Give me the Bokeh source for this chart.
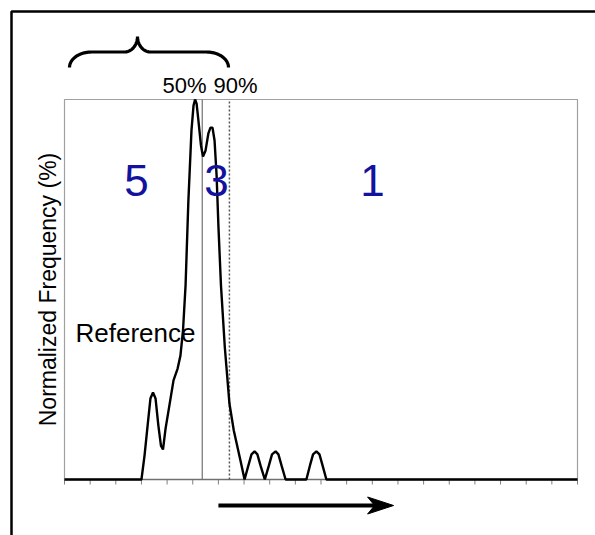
import numpy as np
from bokeh.plotting import figure
from bokeh.models import Range1d, Label
from bokeh.embed import file_html
from bokeh.resources import INLINE

# ---------------- data (x in axis-tick units 0..20, y in % 0..100) ----------------
curve_x = [0.0, 2.88, 3.00, 3.12, 3.24, 3.35, 3.45, 3.55, 3.66, 3.76, 3.84, 3.94,
           4.09, 4.25, 4.41, 4.52, 4.62, 4.72, 4.83, 4.95, 5.03, 5.09, 5.15, 5.22,
           5.32, 5.40, 5.50, 5.61, 5.69, 5.77, 5.85, 5.93, 6.00, 6.10, 6.25, 6.43,
           6.60, 6.86, 7.02, 7.17, 7.29, 7.41, 7.52, 7.64, 7.81, 7.97, 8.09, 8.23,
           8.34, 8.46, 8.62, 9.43, 9.57, 9.69, 9.82, 9.94, 10.06, 10.21, 20.0]
curve_y = [0.0, 0.0, 0.0, 6.3, 14.2, 21.3, 22.9, 21.3, 14.2, 8.9, 7.9, 13.4,
           19.5, 26.1, 29.2, 32.6, 39.2, 51.1, 73.4, 91.8, 98.4, 100.0, 98.9, 94.5,
           87.9, 85.0, 86.6, 91.1, 92.6, 92.6, 89.2, 80.0, 66.8, 51.1, 34.8, 20.0,
           12.9, 5.0, 0.0, 3.7, 6.6, 7.4, 6.6, 3.7, 0.0, 3.7, 6.6, 7.4,
           6.6, 3.7, 0.0, 0.0, 3.7, 6.6, 7.4, 6.6, 3.7, 0.0, 0.0]

x_ticks = list(range(0, 21))
ref_50 = 5.37          # "50%" reference line
ref_90 = 6.43          # "90%" dotted line
zone_labels = ["5", "3", "1"]
zone_x = [2.81, 5.93, 12.01]
y_title = "Normalized Frequency (%)"

# ---------------- geometry ----------------
W, H = 595, 535
L, R, T, B = 64, 577, 99, 479           # inner plot box in canvas px
sx = (R - L) / 20.0
sy = (B - T) / 100.0

def ux(cx):
    return (cx - L) / sx

def uy(cy):
    return (B - cy) / sy

def base(cy, fs):
    # baseline correction for the svg text placement
    return uy(cy - 0.42 * fs)

p = figure(width=W, height=H, output_backend="svg", toolbar_location=None,
           x_range=Range1d(ux(0), ux(W)), y_range=Range1d(uy(H), uy(0)),
           x_axis_type=None, y_axis_type=None, min_border=0,
           background_fill_color="white", border_fill_color="white")
p.outline_line_color = None

FONT = "Liberation Sans"

# outer frame (top and left only)
p.line([ux(11), ux(11), ux(W)], [uy(H), uy(11), uy(11)], line_color="black", line_width=2.5)

# inner box (grey)
p.line([0, 0, 20, 20], [0, 100, 100, 0], line_color="#a0a0a0", line_width=1.2)

# x axis line and tick marks at y = 0
p.segment(x0=x_ticks, y0=[0] * len(x_ticks), x1=x_ticks, y1=[-5 / sy] * len(x_ticks),
          line_color="#808080", line_width=1)
p.line([0, 20], [0, 0], line_color="#707070", line_width=1.5)

# reference lines
p.line([ref_50, ref_50], [0, 100], line_color="#707070", line_width=1.2)
p.line([ref_90, ref_90], [0, 100], line_color="#555555", line_width=1.5, line_dash="2 2")

# distribution curve
p.line(curve_x, curve_y, line_color="black", line_width=2.4)

# curly brace above the plot
def brace(x0, x1, xt, yb, ht, r_end, r_tip):
    t = np.linspace(0, np.pi / 2, 24)
    ym = yb + ht / 2
    xs, ys = [], []
    xs += list(x0 + r_end * (1 - np.cos(t))); ys += list(yb + ht / 2 * np.sin(t))
    xs += list(xt - r_tip + r_tip * np.sin(t)); ys += list(ym + ht / 2 * (1 - np.cos(t)))
    xs += list(xt + r_tip - r_tip * np.sin(t[::-1])); ys += list(ym + ht / 2 * (1 - np.cos(t[::-1])))
    xs += list(x1 - r_end * (1 - np.cos(t[::-1]))); ys += list(yb + ht / 2 * np.sin(t[::-1]))
    return xs, ys

bx, by = brace(ux(69), ux(228), ux(137), uy(67), uy(36) - uy(67), 22 / sx, 13 / sx)
p.line(bx, by, line_color="black", line_width=3.2)

# arrow below the axis
ax0, ax1, ay = 6.0, 12.83, uy(505)
p.line([ax0, ax1 - 12 / sx], [ay, ay], line_color="black", line_width=4)
p.patch([ax1, ax1 - 26 / sx, ax1 - 19 / sx, ax1 - 26 / sx],
        [ay, ay + 8.5 / sy, ay, ay - 8.5 / sy], fill_color="black", line_color="black")

# texts
p.add_layout(Label(x=ux(47), y=uy(289), text=y_title, angle=np.pi / 2, text_align="center",
                   text_baseline="middle", text_font=FONT, text_font_size="23px",
                   text_color="black"))
p.add_layout(Label(x=ux(162), y=base(94, 22), text="50%", text_align="left",
                   text_baseline="alphabetic", text_font=FONT, text_font_size="22px",
                   text_color="black"))
p.add_layout(Label(x=ux(213), y=base(94, 22), text="90%", text_align="left",
                   text_baseline="alphabetic", text_font=FONT, text_font_size="22px",
                   text_color="black"))
p.add_layout(Label(x=ux(75), y=base(343, 26), text="Reference", text_align="left",
                   text_baseline="alphabetic", text_font=FONT, text_font_size="26px",
                   text_color="black"))
for lab, zx in zip(zone_labels, zone_x):
    p.add_layout(Label(x=zx, y=base(198, 44), text=lab, text_align="center",
                       text_baseline="alphabetic", text_font=FONT, text_font_size="44px",
                       text_color="#12129e"))

open("out.html", "w").write(file_html(p, INLINE))
